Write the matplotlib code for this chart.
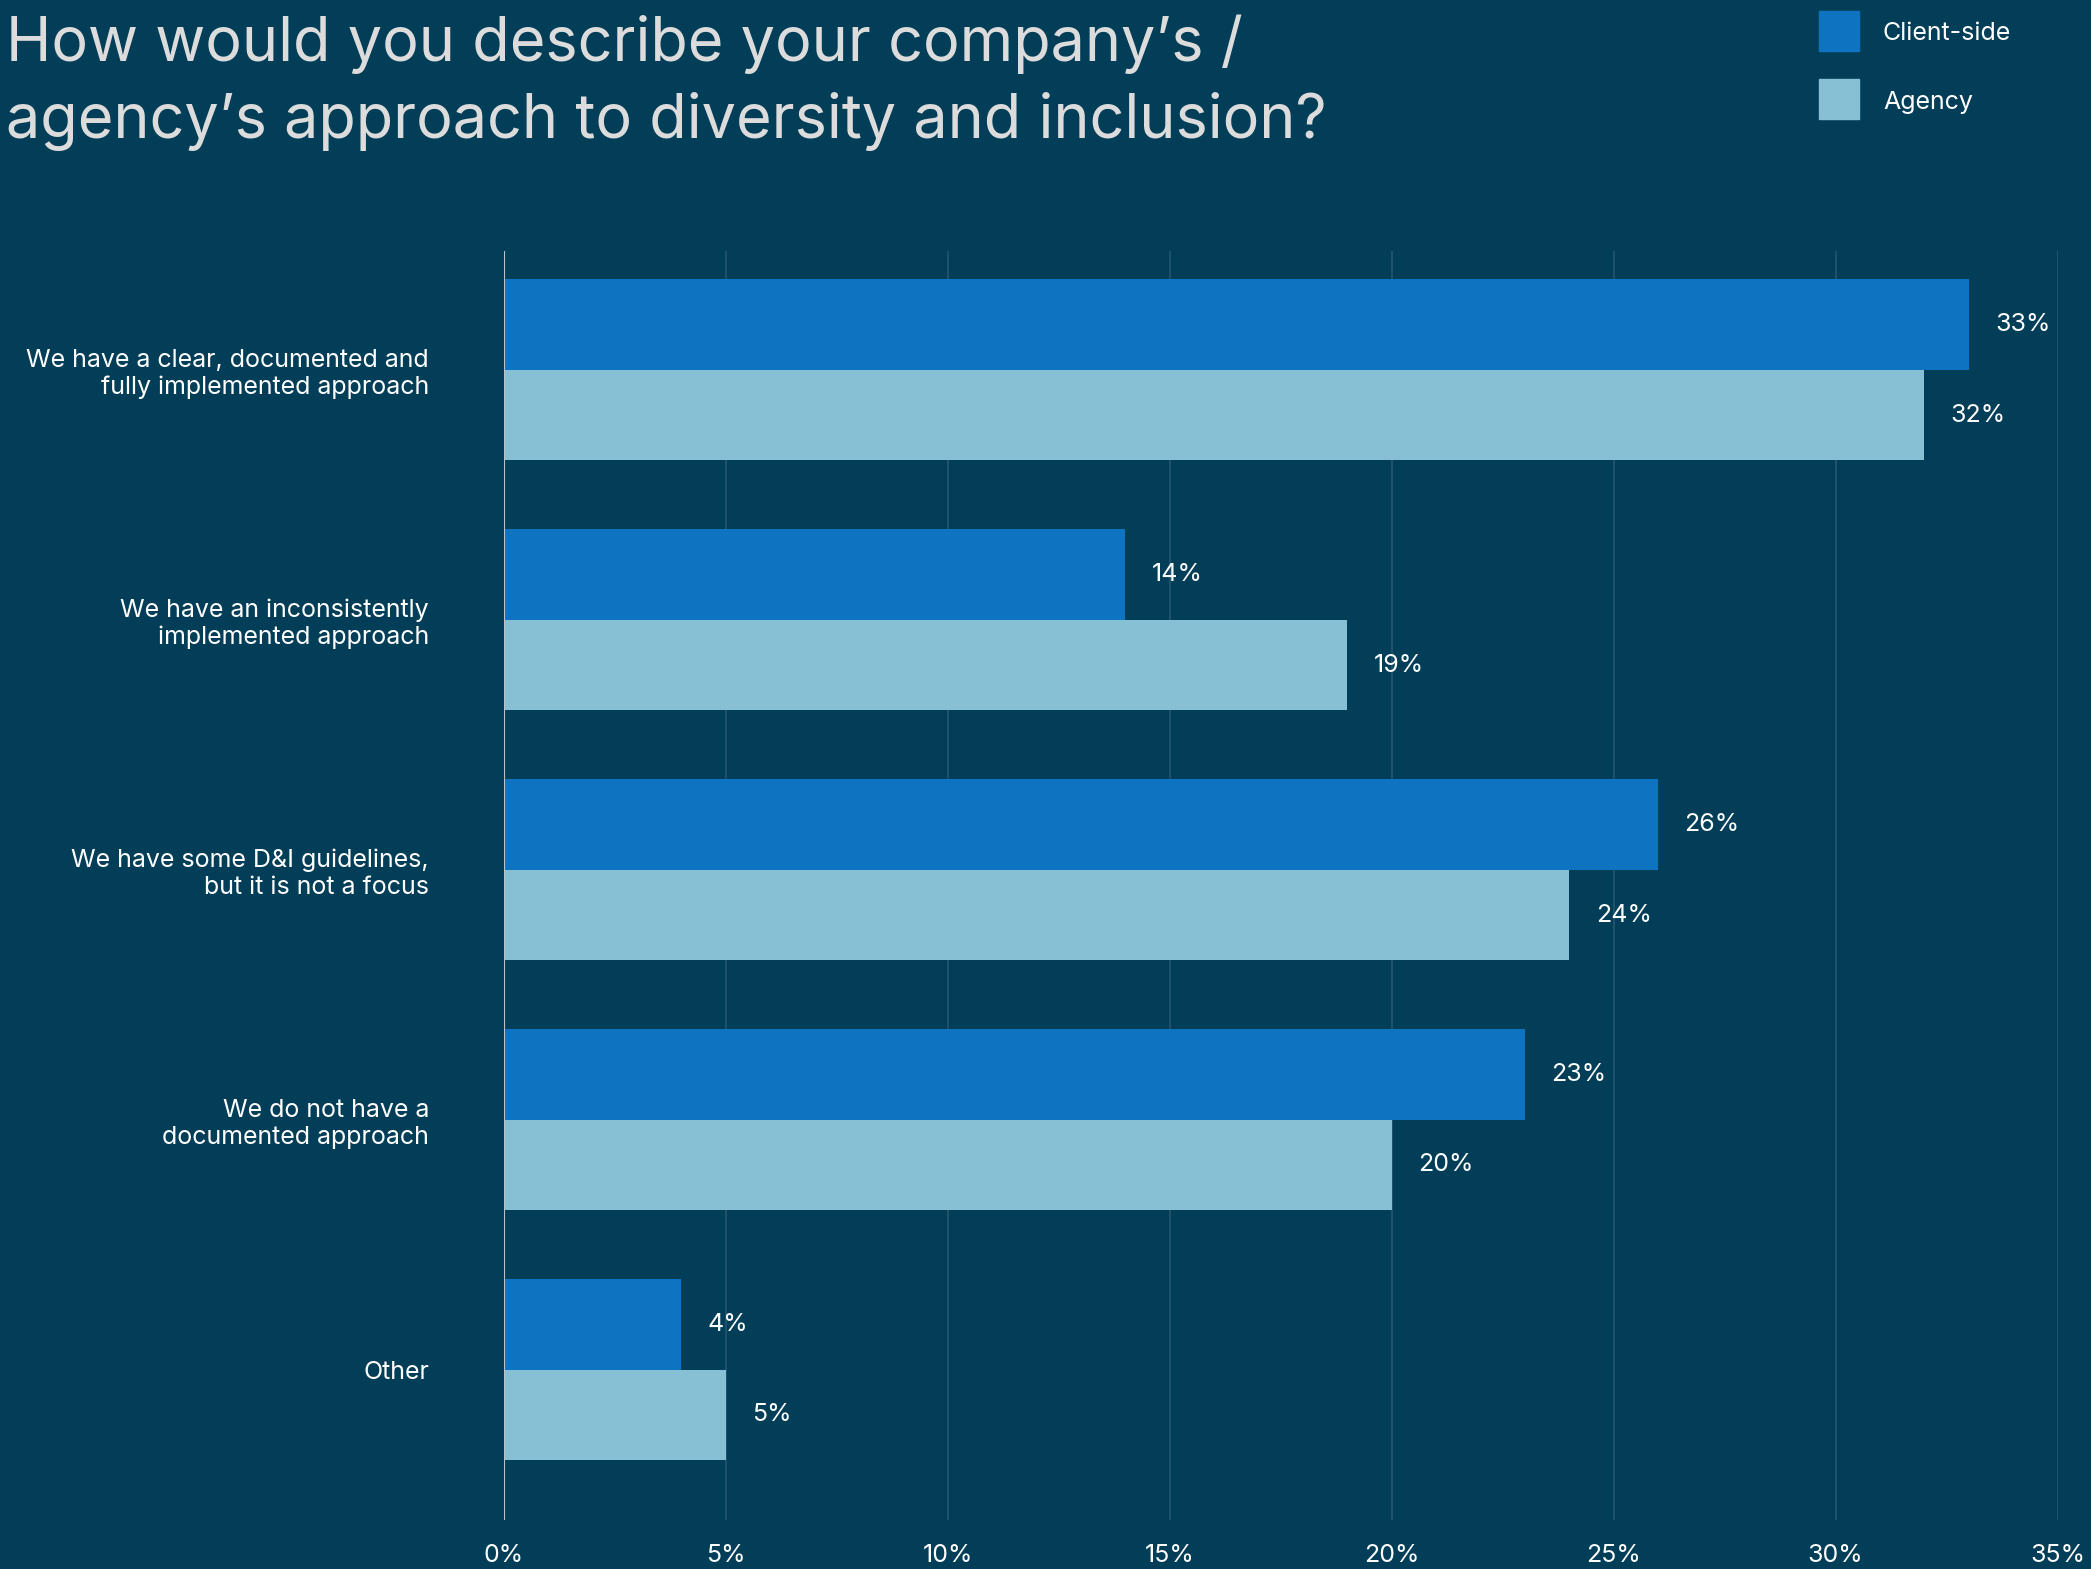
import matplotlib

matplotlib.use("Agg")
import matplotlib.pyplot as plt
import numpy as np
from matplotlib.patches import Rectangle

BG = "#033e58"
CLIENT_COLOR = "#0e74c2"
AGENCY_COLOR = "#87c0d5"
TEXT = "#ffffff"
TITLE_COLOR = "#dcdcdc"
GRID = "#24566e"

title = "How would you describe your company\u2019s /\nagency\u2019s approach to diversity and inclusion?"
categories = [
    "We have a clear, documented and\nfully implemented approach",
    "We have an inconsistently\nimplemented approach",
    "We have some D&I guidelines,\nbut it is not a focus",
    "We do not have a\ndocumented approach",
    "Other",
]
series_names = ["Client-side", "Agency"]
client_side = [33, 14, 26, 23, 4]
agency = [32, 19, 24, 20, 5]
x_ticks = [0, 5, 10, 15, 20, 25, 30, 35]

plt.rcParams["font.family"] = ["Inter", "DejaVu Sans"]

fig = plt.figure(figsize=(20.91, 15.69), dpi=100, facecolor=BG)
ax = fig.add_axes([0.241, 0.031, 0.743, 0.809], facecolor=BG)

y = np.arange(len(categories))
h = 0.3627
ax.barh(y - h / 2, client_side, height=h, color=CLIENT_COLOR, zorder=3)
ax.barh(y + h / 2, agency, height=h, color=AGENCY_COLOR, zorder=3)

for yi, v in zip(y - h / 2, client_side):
    ax.annotate(f"{v}%", (v, yi), xytext=(19, 0), textcoords="offset points",
                va="center", ha="left", color=TEXT, fontsize=18)
for yi, v in zip(y + h / 2, agency):
    ax.annotate(f"{v}%", (v, yi), xytext=(19, 0), textcoords="offset points",
                va="center", ha="left", color=TEXT, fontsize=18)

ax.set_xlim(0, 35)
ax.set_ylim(4.603, -0.475)
ax.set_xticks(x_ticks)
ax.set_xticklabels([f"{t}%" for t in x_ticks])
ax.set_yticks(y)
ax.set_yticklabels(categories)
ax.tick_params(axis="x", length=0, pad=17, labelsize=18, labelcolor=TEXT)
ax.tick_params(axis="y", length=0, pad=54, labelsize=18, labelcolor=TEXT)
for t in ax.get_yticklabels():
    t.set_multialignment("right")

for t in x_ticks[1:]:
    ax.axvline(t, color=GRID, linewidth=1.2, zorder=1)
ax.axvline(0, color="#b8c4ca", linewidth=1.5, zorder=4)

for s in ax.spines.values():
    s.set_visible(False)

fig.text(0.003, 0.991, title, color=TITLE_COLOR, fontsize=44, va="top", ha="left",
         linespacing=1.4)

# legend
for i, (name, col) in enumerate(zip(series_names, [CLIENT_COLOR, AGENCY_COLOR])):
    y0 = 1 - (51 + 68 * i) / 1569
    fig.patches.append(Rectangle((1819 / 2091, y0), 40 / 2091, 40 / 1569,
                                 transform=fig.transFigure, color=col))
    fig.text(1883 / 2091, y0 + 17 / 1569, name, color=TEXT, fontsize=18,
             va="center", ha="left")

fig.savefig("out.png", dpi=100, facecolor=BG)
